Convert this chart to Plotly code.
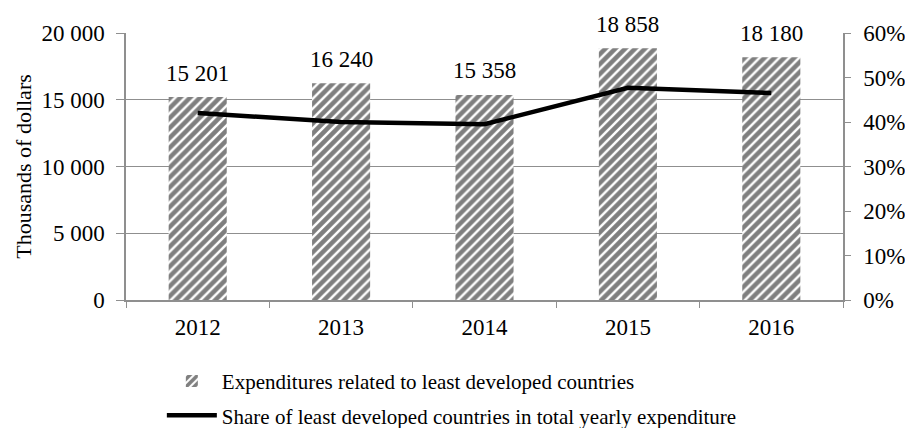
import plotly.graph_objects as go

years = ["2012", "2013", "2014", "2015", "2016"]
expenditures = [15201, 16240, 15358, 18858, 18180]
share = [0.42, 0.40, 0.395, 0.477, 0.465]
bar_name = "Expenditures related to least developed countries"
line_name = "Share of least developed countries in total yearly expenditure"
y_title = "Thousands of dollars"

FONT = "Liberation Serif, Times New Roman, serif"
FS = 23
GRID = "#8f8f8f"


def fmt(v):
    return f"{v:,}".replace(",", " ")


fig = go.Figure()
fig.add_trace(go.Bar(
    x=years, y=expenditures, name=bar_name,
    marker=dict(color="white", line=dict(width=0),
                pattern=dict(shape="/", fgcolor="black", bgcolor="white",
                             size=7, solidity=0.65)),
    width=0.405, legendgroup="a", yaxis="y",
    hoverinfo="x+y",
))
fig.add_trace(go.Scatter(
    x=years, y=share, name=line_name, mode="lines",
    line=dict(color="black", width=4.5), legendgroup="b", yaxis="y2",
))

for i, v in enumerate(expenditures):
    fig.add_annotation(x=i, xref="x", y=v, yref="y", text=fmt(v), showarrow=False,
                       yshift=24, font=dict(family=FONT, size=FS, color="black"))

fig.update_layout(
    width=905, height=428,
    margin=dict(l=126, r=62, t=33, b=128, autoexpand=False),
    paper_bgcolor="white", plot_bgcolor="white",
    font=dict(family=FONT, size=FS, color="black"),
    separators=". ",
    showlegend=True,
    legend=dict(orientation="v", x=0.05, xanchor="left", y=-0.228, yanchor="top",
                tracegroupgap=4, font=dict(family=FONT, size=21),
                itemwidth=50, bgcolor="rgba(0,0,0,0)"),
    xaxis=dict(type="category", range=[-0.5, len(years) - 0.5],
               showgrid=False, showline=True, linecolor=GRID, linewidth=1.5,
               ticks="outside", tickson="boundaries", ticklen=6, tickcolor=GRID,
               ticklabelstandoff=6,
               tickfont=dict(family=FONT, size=FS)),
    yaxis=dict(range=[0, 20000], dtick=5000, tickformat=",d", showgrid=True,
               gridcolor=GRID, gridwidth=1, showline=True, linecolor=GRID, linewidth=1.5,
               ticks="outside", ticklen=8, tickcolor=GRID, zeroline=False,
               ticklabelstandoff=7,
               title=dict(text=y_title, font=dict(family=FONT, size=22), standoff=4),
               tickfont=dict(family=FONT, size=FS)),
    yaxis2=dict(range=[0, 0.6], dtick=0.1, tickformat=".0%", overlaying="y", side="right",
                showgrid=False, showline=True, linecolor=GRID, linewidth=1.5,
                ticks="outside", ticklen=6, tickcolor=GRID, zeroline=False,
                ticklabelstandoff=8,
                tickfont=dict(family=FONT, size=FS)),
)

fig.write_html("out.html")
